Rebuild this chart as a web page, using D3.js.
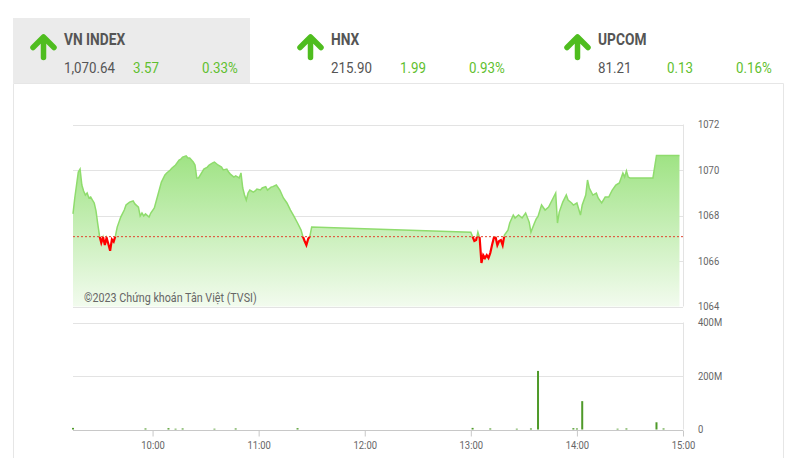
<!DOCTYPE html>
<html><head><meta charset="utf-8">
<script src="https://cdn.jsdelivr.net/npm/d3@7"></script>
<style>
html,body{margin:0;padding:0;background:#fff;}
svg{display:block;font-family:Roboto, "Noto Sans", sans-serif;}
</style></head>
<body><svg id="c" width="800" height="458"></svg>
<script>
// ---- header data ----
const indexNames = ["VN INDEX", "HNX", "UPCOM"];
const indexValues = ["1,070.64", "215.90", "81.21"];
const indexChanges = ["3.57", "1.99", "0.13"];
const indexPercents = ["0.33%", "0.93%", "0.16%"];

// ---- price series (VN-Index intraday) ----
const priceTimes = [
"9:15","9:16","9:17","9:18","9:19","9:20","9:21","9:22","9:23","9:24","9:25","9:26","9:27","9:28","9:29","9:30",
"9:31","9:32","9:33","9:34","9:35","9:36","9:37","9:38","9:39","9:40","9:42","9:44","9:45","9:47","9:49","9:50",
"9:52","9:53","9:54","9:55","9:56","9:58","9:59","10:01","10:03","10:05","10:07","10:08","10:10","10:11","10:13",
"10:15","10:16","10:17","10:19","10:20","10:21","10:23","10:24","10:25","10:26","10:28","10:29","10:31","10:32",
"10:34","10:35","10:37","10:39","10:40","10:42","10:43","10:44","10:46","10:47","10:49","10:50","10:51","10:52",
"10:53","10:54","10:55","10:57","10:58","10:59","11:01","11:02","11:04","11:05","11:07","11:08","11:10","11:12",
"11:14","11:16","11:18","11:20","11:22","11:24","11:25","11:26","11:27","11:28","11:29","11:30",
"13:00","13:02","13:03","13:04","13:05","13:06","13:07","13:08","13:09","13:10","13:11","13:12","13:13","13:14",
"13:15","13:16","13:17","13:18","13:19","13:21","13:22","13:24","13:25","13:27","13:29","13:31","13:33","13:34",
"13:36","13:37","13:38","13:40","13:42","13:44","13:46","13:48","13:49","13:50","13:52","13:54","13:55","13:57",
"13:58","14:00","14:02","14:03","14:05","14:06","14:07","14:09","14:11","14:12","14:14","14:16","14:18","14:20",
"14:22","14:24","14:26","14:27","14:28","14:29","14:30","14:43","14:45","14:58"
];
const priceValues = [
1068.07,1068.77,1069.34,1069.91,1070.04,1069.34,1069.08,1068.90,1068.99,1068.77,1068.81,1068.68,1068.55,1068.20,1067.63,1067.10,
1066.80,1067.05,1066.70,1067.02,1066.75,1066.45,1066.95,1066.85,1067.10,1067.49,1067.93,1068.24,1068.46,1068.59,1068.64,1068.51,
1068.37,1067.98,1068.11,1067.98,1068.07,1067.93,1068.11,1068.33,1068.90,1069.47,1069.78,1069.87,1070.00,1070.09,1070.22,
1070.44,1070.48,1070.57,1070.62,1070.53,1070.53,1070.35,1070.22,1069.65,1069.65,1069.91,1070.04,1070.13,1070.22,
1070.31,1070.35,1070.22,1070.13,1070.00,1070.04,1069.91,1069.82,1069.69,1069.74,1069.65,1069.87,1069.21,1068.90,
1068.68,1068.99,1069.12,1069.03,1069.08,1069.16,1069.12,1069.21,1069.27,1069.12,1069.25,1069.27,1069.34,1069.12,
1068.77,1068.55,1068.24,1067.96,1067.67,1067.36,1067.08,1066.88,1066.70,1066.97,1067.10,1067.49,
1067.26,1066.88,1066.92,1067.27,1067.01,1065.91,1066.26,1066.13,1066.26,1066.13,1066.35,1066.70,1067.01,1067.05,
1066.70,1066.88,1066.92,1066.70,1067.14,1067.36,1067.67,1068.02,1067.89,1068.02,1067.89,1068.11,1067.71,1067.27,
1067.67,1067.85,1067.96,1068.46,1068.24,1068.37,1068.68,1068.99,1067.67,1068.15,1068.59,1068.90,1068.68,1068.55,
1068.46,1068.55,1068.02,1068.46,1068.90,1069.56,1069.21,1068.90,1068.99,1068.77,1068.55,1068.81,1068.81,1069.12,
1069.34,1069.43,1069.87,1069.69,1069.96,1069.69,1069.65,1069.65,1070.64,1070.64
];
const referenceValue = 1067.07;

// ---- volume series (shares) ----
const volTimes = ["9:15","9:56","10:09","10:13","10:17","10:35","10:47","11:22","13:01","13:11","13:26","13:34","13:38","13:58","14:00","14:03","14:23","14:28","14:45","14:49"];
const volValues = [6e6,4e6,5e6,3e6,4e6,3e6,4e6,5e6,6e6,4e6,3e6,4e6,219e6,5e6,4e6,106e6,3e6,4e6,27e6,4e6];

// ---- axis ticks ----
const priceTicks = [1064, 1066, 1068, 1070, 1072];
const volTicks = [0, 200e6, 400e6];
const volTickLabels = ["0", "200M", "400M"];
const timeTicks = ["10:00", "11:00", "12:00", "13:00", "14:00", "15:00"];
const copyrightText = "©2023 Chứng khoán Tân Việt (TVSI)";

// ---------------------------------------------------------------
const parseT = s => { const [h, m] = s.split(":").map(Number); return new Date(2023, 0, 1, h, m); };
const svg = d3.select("#c");
const GREEN_ARROW = "#4fbd1f", GREEN_TXT = "#5fbf2f", GRAY_TXT = "#555";
const SX = 0.86; // horizontal squeeze of the source rendering's text

function addText(parent, x, y, str, size, fill, opts = {}) {
  const g = parent.append("g").attr("transform", `translate(${x},${y}) scale(${SX},1)`);
  const t = g.append("text").attr("font-size", size).attr("fill", fill).text(str);
  if (opts.bold) t.attr("font-weight", "bold");
  if (opts.dy) t.attr("dy", opts.dy);
  if (opts.anchor) t.attr("text-anchor", opts.anchor);
  return t;
}

// header
svg.append("rect").attr("x", 13).attr("y", 18).attr("width", 237).attr("height", 65).attr("fill", "#ebebeb");
// panel border
svg.append("path").attr("d", "M13.5,83.5H783.5V458M13.5,83.5V458").attr("fill", "none").attr("stroke", "#e6e6e6");

indexNames.forEach((name, i) => {
  const x0 = 13 + i * 267;
  const g = svg.append("g");
  g.append("path")
    .attr("d", `M${x0 + 20},${47.5}L${x0 + 20.5 + 10},${37}L${x0 + 41},${47.5}M${x0 + 20.5 + 10},${37.5}V${57.5}`)
    .attr("fill", "none").attr("stroke", GREEN_ARROW).attr("stroke-width", 5.5)
    .attr("stroke-linecap", "round").attr("stroke-linejoin", "round");
  addText(g, x0 + 51, 45, name, 16, GRAY_TXT, { bold: true });
  addText(g, x0 + 51, 73, indexValues[i], 15.5, GRAY_TXT);
  addText(g, x0 + 120, 73, indexChanges[i], 15.5, GREEN_TXT);
  addText(g, x0 + 189, 73, indexPercents[i], 15.5, GREEN_TXT);
});

// scales
const x = d3.scaleTime().domain([parseT("9:15"), parseT("15:00")]).range([73, 683]);
const y = d3.scaleLinear().domain([1064, 1072]).range([306.5, 124.5]);
const yv = d3.scaleLinear().domain([0, 400e6]).range([429.5, 322.5]);

const data = priceTimes.map((t, i) => ({ t: parseT(t), v: priceValues[i] }));

// grid price
const gPrice = svg.append("g");
gPrice.selectAll("line.grid").data(priceTicks).join("line")
  .attr("x1", 73).attr("x2", 683).attr("y1", d => Math.round(y(d)) + 0.5).attr("y2", d => Math.round(y(d)) + 0.5)
  .attr("stroke", "#e3e3e3");
gPrice.append("line").attr("x1", 683.5).attr("x2", 683.5).attr("y1", y(1072)).attr("y2", y(1064)).attr("stroke", "#e3e3e3");

// gradient
const defs = svg.append("defs");
const grad = defs.append("linearGradient").attr("id", "ga").attr("gradientUnits", "userSpaceOnUse")
  .attr("x1", 0).attr("x2", 0).attr("y1", y(d3.max(priceValues))).attr("y2", y(1064));
grad.append("stop").attr("offset", 0).attr("stop-color", "#9fe384");
grad.append("stop").attr("offset", 1).attr("stop-color", "#f2fbee");
defs.append("clipPath").attr("id", "above").append("rect").attr("x", 0).attr("y", 0).attr("width", 800).attr("height", y(referenceValue));
defs.append("clipPath").attr("id", "below").append("rect").attr("x", 0).attr("y", y(referenceValue)).attr("width", 800).attr("height", 300);

const area = d3.area().x(d => x(d.t)).y0(y(1064)).y1(d => y(d.v));
const line = d3.line().x(d => x(d.t)).y(d => y(d.v));
gPrice.append("path").datum(data).attr("d", area).attr("fill", "url(#ga)");
gPrice.append("path").datum(data).attr("d", line).attr("fill", "none").attr("stroke", "#8fdc6d")
  .attr("stroke-width", 1.5).attr("clip-path", "url(#above)");
gPrice.append("path").datum(data).attr("d", line).attr("fill", "none").attr("stroke", "#ff0000")
  .attr("stroke-width", 2.2).attr("clip-path", "url(#below)");
gPrice.append("line").attr("x1", 73).attr("x2", 683).attr("y1", y(referenceValue)).attr("y2", y(referenceValue))
  .attr("stroke", "#e0452f").attr("stroke-dasharray", "2,2");

// price axis labels
priceTicks.forEach(d => addText(gPrice, 698, y(d), String(d), 11, "#666", { dy: "0.35em" }));
addText(gPrice, 84, 298, copyrightText, 12.5, "#666", { dy: "0.35em" });

// volume
const gVol = svg.append("g");
gVol.selectAll("line.grid").data(volTicks.slice(1)).join("line")
  .attr("x1", 73).attr("x2", 683).attr("y1", d => Math.round(yv(d)) + 0.5).attr("y2", d => Math.round(yv(d)) + 0.5)
  .attr("stroke", "#e3e3e3");
gVol.append("line").attr("x1", 683.5).attr("x2", 683.5).attr("y1", yv(400e6)).attr("y2", yv(0)).attr("stroke", "#e3e3e3");
gVol.selectAll("rect.bar").data(volTimes.map((t, i) => ({ t: parseT(t), v: volValues[i] }))).join("rect")
  .attr("x", d => x(d.t) - 1).attr("width", 2)
  .attr("y", d => yv(d.v)).attr("height", d => yv(0) - yv(d.v)).attr("fill", "#4f9a2a");
volTicks.forEach((d, i) => addText(gVol, 698, yv(d), volTickLabels[i], 11, "#666", { dy: "0.35em" }));

// x axis
const xAxis = d3.axisBottom(x).tickValues(timeTicks.map(parseT)).tickFormat(d3.timeFormat("%H:%M")).tickSize(6).tickSizeOuter(0);
const ax = svg.append("g").attr("transform", `translate(0,${Math.round(yv(0)) + 0.5})`).call(xAxis);
ax.select(".domain").attr("stroke", "#c8c8c8").attr("d", "M73,0H683");
ax.selectAll(".tick line").attr("stroke", "#c8c8c8");
ax.selectAll(".tick text").attr("fill", "#666").attr("font-size", 11).attr("font-family", "Roboto, sans-serif")
  .attr("dy", "0.9em").attr("transform", `scale(${SX},1)`);
</script></body></html>
